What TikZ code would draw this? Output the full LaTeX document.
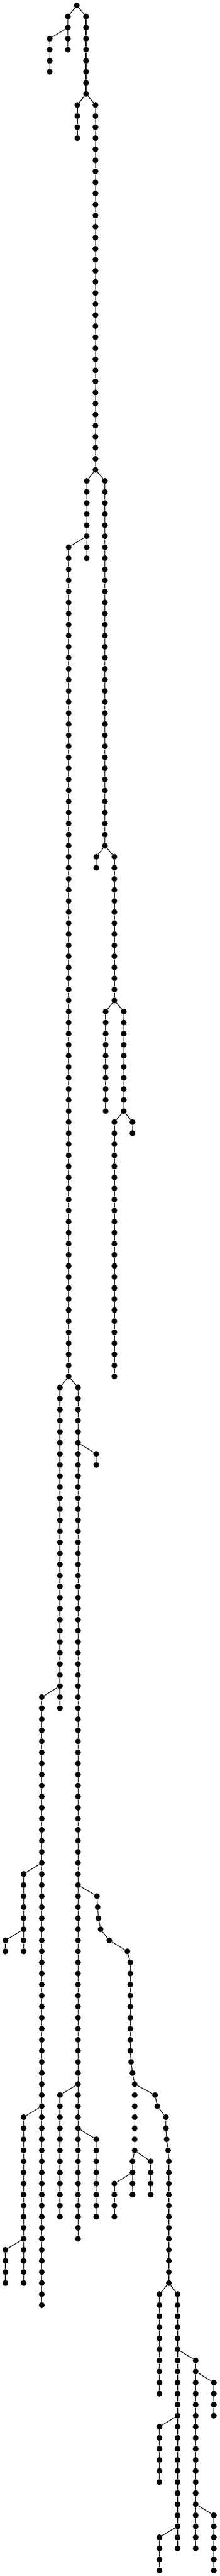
\documentclass[tikz,border=0pt]{standalone}
\tikzset{
  dot/.style={circle, fill=black, draw=none, inner sep=0pt, minimum size=5.33pt},
  edge/.style={draw=black, line width=0.6pt},
}
\newcommand\mychain[4]{%
  \foreach \l in {#3,...,#4}{%
    \node[dot] (#1-\l) at (#2,\l) {};
    \ifnum\l>#3\relax
      \pgfmathtruncatemacro\pl{\l-1}%
      \draw[edge] (#1-\pl) -- (#1-\l);
    \fi
  }%
}
\begin{document}
\begin{tikzpicture}
\fill[white] (0pt,0pt) rectangle (201.5pt,-2361pt);
\useasboundingbox (0pt,0pt) rectangle (201.5pt,-2361pt);
\begin{scope}[x=0.5pt, y=-10.1335pt, yshift=-5pt]
% chains: name, x (px), first level, last level
\mychain{R}{141}{0}{0}
\mychain{A}{124.7}{1}{4}
\mychain{B}{91.3}{3}{6}
\mychain{C}{158}{1}{8}
\mychain{D}{142}{9}{12}
\mychain{E}{175.3}{9}{42}
\mychain{F}{159.3}{43}{50}
\mychain{G}{126}{49}{124}
\mychain{H}{192.7}{43}{76}
\mychain{I}{176.7}{77}{78}
\mychain{J}{210}{77}{90}
\mychain{K}{194}{91}{100}
\mychain{M}{227.3}{91}{100}
\mychain{N}{210}{101}{124}
\mychain{O}{243.3}{101}{102}
\mychain{P}{110}{125}{154}
\mychain{Q}{76.7}{153}{208}
\mychain{S}{43.3}{169}{176}
\mychain{T}{10}{175}{176}
\mychain{U}{43.3}{191}{206}
\mychain{V}{10}{203}{206}
\mychain{W}{143.3}{125}{202}
\mychain{X}{176.7}{131}{132}
\mychain{Z}{110}{189}{200}
\mychain{AA}{176.7}{193}{200}
\mychain{CC}{243.3}{195}{198}
\mychain{DD}{210}{197}{200}
\mychain{EE}{276.7}{195}{198}
\mychain{FF}{292.7}{207}{216}
\mychain{GG}{326}{207}{230}
\mychain{HH}{359.3}{213}{230}
\mychain{KK}{392.7}{215}{218}
\mychain{LL}{392.7}{227}{232}
\mychain{II}{292.7}{219}{224}
\mychain{JJ}{292.7}{229}{232}
% drifting chain Y
\foreach \l/\xx in {171/178,172/179.3,173/180.7,174/184.7,175/200.7,176/234,
  177/239.3,178/239.3,179/239.3,180/239.3,181/239.3,182/239.3,183/239.3,184/239.3,185/239.3,
  186/240.7,187/243.3,188/247.3,189/247.3,190/247.3,191/247.3,192/247.3,193/247.3,194/247.3}
  {\node[dot] (Y-\l) at (\xx,\l) {};}
\foreach \l in {172,...,194}{\pgfmathtruncatemacro\pl{\l-1}\draw[edge] (Y-\pl) -- (Y-\l);}
% drifting chain BB
\foreach \l/\xx in {189/284.7,190/288.7,191/304.7,192/304.7,193/306,194/308.7,
  195/310,196/310,197/310,198/310,199/310,200/310,201/310,202/310,203/310,204/310,205/310,206/310}
  {\node[dot] (BB-\l) at (\xx,\l) {};}
\foreach \l in {190,...,206}{\pgfmathtruncatemacro\pl{\l-1}\draw[edge] (BB-\pl) -- (BB-\l);}
% branch connectors
\foreach \a/\b in {R-0/A-1, R-0/C-1, A-2/B-3, C-8/D-9, C-8/E-9,
  E-42/F-43, E-42/H-43, F-48/G-49, G-124/P-125, G-124/W-125,
  H-76/I-77, H-76/J-77, J-90/K-91, J-90/M-91, M-100/N-101, M-100/O-101,
  P-152/Q-153, Q-168/S-169, S-174/T-175, Q-190/U-191, U-202/V-203,
  W-130/X-131, W-170/Y-171, W-188/Z-189, W-192/AA-193,
  Y-188/BB-189, Y-194/CC-195, Y-194/EE-195, CC-196/DD-197,
  BB-206/FF-207, BB-206/GG-207, GG-212/HH-213, GG-218/II-219, GG-228/JJ-229,
  HH-214/KK-215, HH-226/LL-227}
  {\draw[edge] (\a) -- (\b);}
\end{scope}
\end{tikzpicture}
\end{document}
